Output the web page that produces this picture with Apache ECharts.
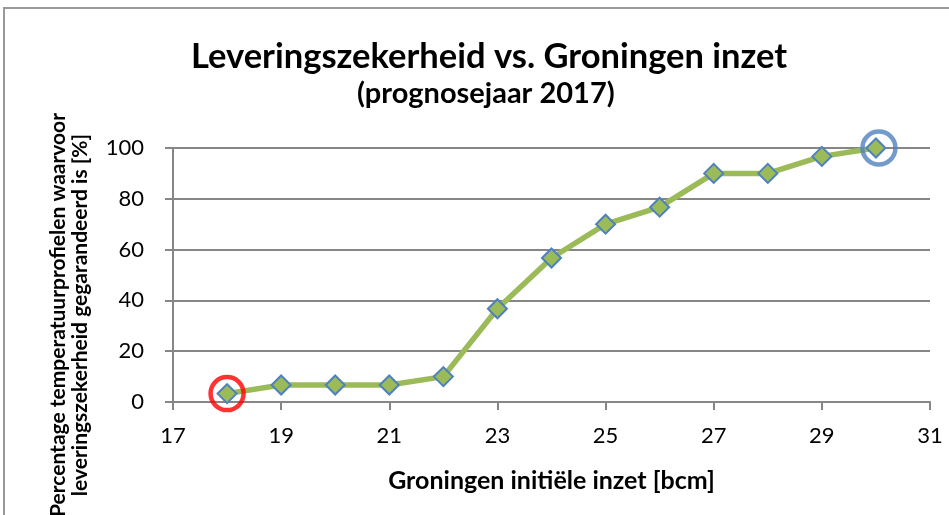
<!DOCTYPE html>
<html>
<head>
<meta charset="utf-8">
<script src="https://cdn.jsdelivr.net/npm/echarts@6/dist/echarts.min.js"></script>
<style>
  html, body { margin: 0; padding: 0; background: #fff; }
  #chart { width: 949px; height: 515px; }
</style>
</head>
<body>
<div id="chart"></div>
<script>
// Groningen initiële inzet [bcm]
const inzet = [18, 19, 20, 21, 22, 23, 24, 25, 26, 27, 28, 29, 30]
// percentage profielen met gegarandeerde leveringszekerheid
const percentage = [3.3, 6.7, 6.7, 6.7, 10, 36.7, 56.7, 70, 76.7, 90, 90, 96.7, 100]
// omcirkelde punten
const rodePunt = [[18, 3.3]]
const blauwePunt = [[30, 100]]

const font = 'Lato, "Open Sans", sans-serif'
const gray = '#868686'

const myChart = echarts.init(document.getElementById('chart'))

const option = {
  animation: false,
  textStyle: { fontFamily: font },
  title: [
    {
      text: 'Leveringszekerheid vs. Groningen inzet',
      left: 186,
      top: 34,
      textStyle: { fontSize: 34.5, fontWeight: 'bold', color: '#000', fontFamily: font }
    },
    {
      text: '(prognosejaar 2017)',
      left: 352,
      top: 74,
      textStyle: { fontSize: 29, fontWeight: 'bold', color: '#000', fontFamily: font }
    }
  ],
  grid: { left: 173, right: 19, top: 148, bottom: 113 },
  xAxis: {
    type: 'value',
    min: 17,
    max: 31,
    interval: 2,
    name: 'Groningen initiële inzet [bcm]',
    nameLocation: 'middle',
    nameGap: 66,
    nameTextStyle: { fontSize: 25, fontWeight: 'bold', color: '#000' },
    axisLine: { lineStyle: { color: gray, width: 2 } },
    axisTick: { show: true, length: 8, lineStyle: { color: gray, width: 2 } },
    axisLabel: { fontSize: 22, color: '#000', margin: 23 },
    splitLine: { show: false }
  },
  yAxis: {
    type: 'value',
    min: 0,
    max: 100,
    interval: 20,
    axisLine: { show: true, lineStyle: { color: gray, width: 2 } },
    axisTick: { show: true, length: 8, lineStyle: { color: gray, width: 2 } },
    axisLabel: { fontSize: 22, color: '#000', margin: 29 },
    splitLine: { lineStyle: { color: gray, width: 2 } }
  },
  graphic: [
    {
      type: 'rect',
      shape: { x: 4, y: 8, width: 1000, height: 600 },
      style: { fill: 'none', stroke: '#999', lineWidth: 2 },
      silent: true
    },
    {
      type: 'text',
      x: 69,
      y: 315,
      rotation: Math.PI / 2,
      style: {
        text: 'Percentage temperatuurprofielen waarvoor\nleveringszekerheid gegarandeerd is [%]',
        fontSize: 21,
        fontWeight: 'bold',
        fontFamily: font,
        fill: '#000',
        align: 'center',
        verticalAlign: 'middle',
        lineHeight: 22
      }
    }
  ],
  series: [
    {
      type: 'line',
      data: inzet.map((x, i) => [x, percentage[i]]),
      lineStyle: { color: '#9BBB59', width: 5.5 },
      symbol: 'diamond',
      symbolSize: 19,
      itemStyle: { color: '#9BBB59', borderColor: '#4F81BD', borderWidth: 2 },
      z: 3
    },
    {
      type: 'scatter',
      data: rodePunt,
      symbol: 'circle',
      symbolSize: 33,
      itemStyle: { color: 'none', borderColor: '#FF0000', borderWidth: 4.5 },
      z: 4
    },
    {
      type: 'scatter',
      data: blauwePunt,
      symbol: 'circle',
      symbolSize: 33,
      symbolOffset: [3, 0],
      itemStyle: { color: 'none', borderColor: '#4F81BD', borderWidth: 4.5 },
      z: 4
    }
  ]
}

myChart.setOption(option)
</script>
</body>
</html>
